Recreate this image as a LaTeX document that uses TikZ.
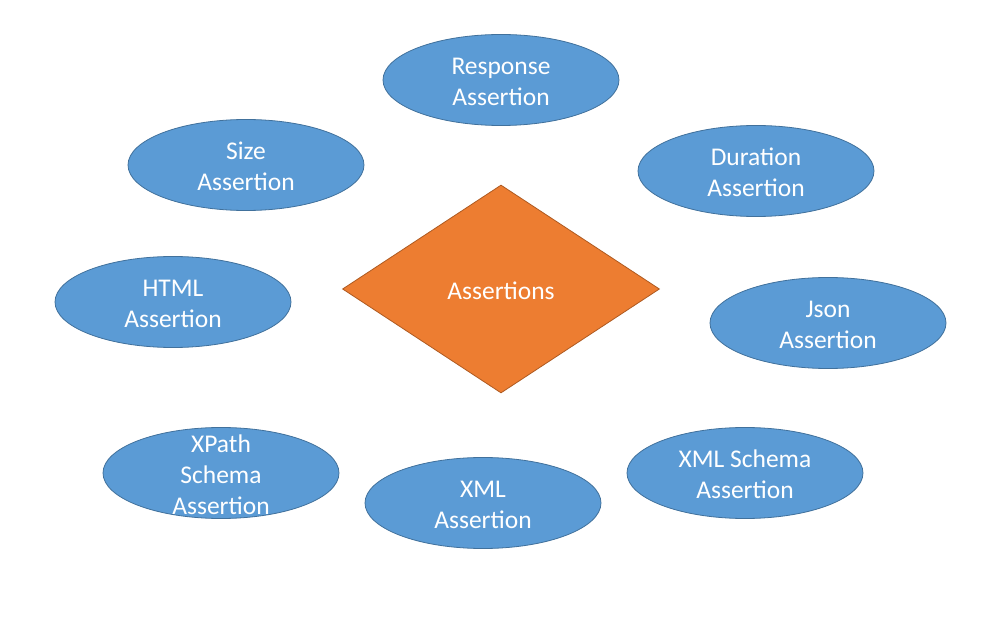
\documentclass[tikz,border=0pt]{standalone}
\usepackage{fontspec}
\setmainfont{Carlito}
\usetikzlibrary{shapes.geometric}
\definecolor{ebl}{HTML}{5B9BD5}
\definecolor{ebd}{HTML}{41719C}
\definecolor{dor}{HTML}{ED7D31}
\definecolor{dod}{HTML}{AE5A21}
\begin{document}
\begin{tikzpicture}[x=1pt,y=-1pt,
  lab/.style={text=white, align=center, inner sep=0pt, yshift=-1.5pt, font=\fontsize{25.5}{31}\selectfont},
  ell/.style={ellipse, draw=ebd, fill=ebl, line width=0.8pt, minimum width=236pt, minimum height=91pt, inner sep=0pt},
  dia/.style={diamond, draw=dod, fill=dor, line width=0.8pt, minimum width=317pt, minimum height=208pt, inner sep=0pt, aspect=1.52}]
\useasboundingbox (0,0) rectangle (988,617);
\node[dia, label={[lab]center:Assertions}] (c) at (501,289) {};
\node[ell, label={[lab]center:Response\\Assertion}] (resp) at (501,80) {};
\node[ell, label={[lab]center:Size\\Assertion}] (size) at (246,165) {};
\node[ell, label={[lab]center:Duration\\Assertion}] (dur) at (756,171) {};
\node[ell, label={[lab]center:HTML\\Assertion}] (html) at (173,302) {};
\node[ell, label={[lab]center:Json\\Assertion}] (json) at (828,323) {};
\node[ell, label={[lab]center:XPath\\Schema\\Assertion}] (xpath) at (221,473) {};
\node[ell, label={[lab]center:XML\\Assertion}] (xml) at (483,503) {};
\node[ell, label={[lab]center:XML Schema\\Assertion}] (xmls) at (745,473) {};
\end{tikzpicture}
\end{document}
